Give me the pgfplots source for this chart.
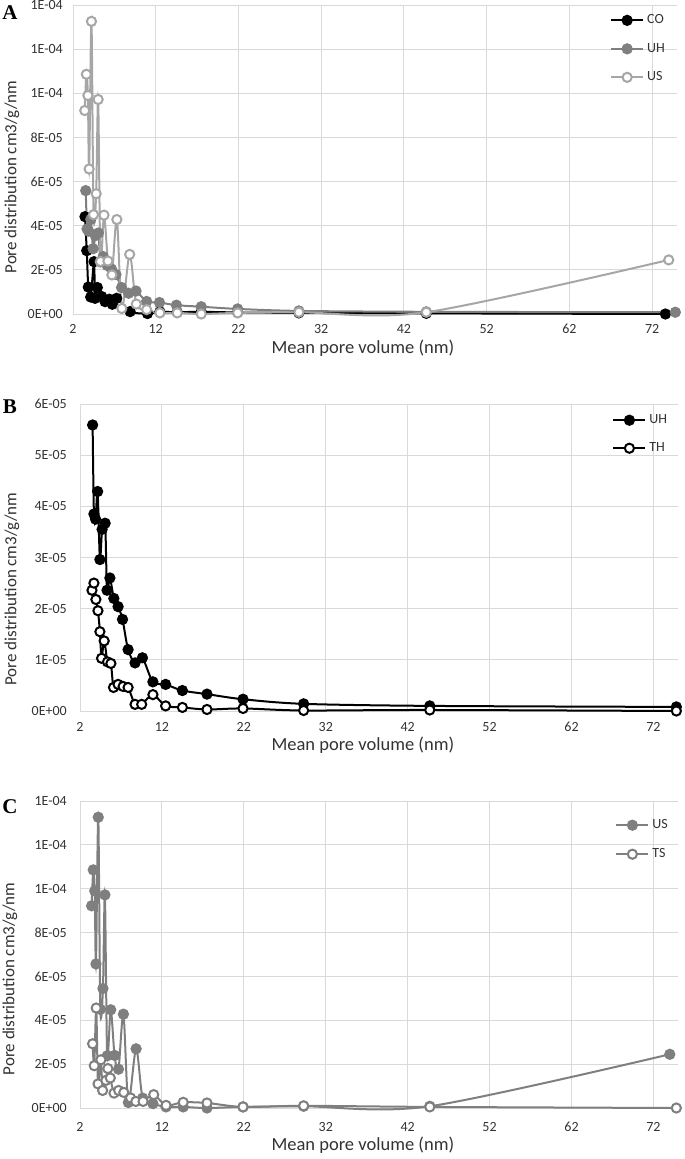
\documentclass[border=0pt]{standalone}
\usepackage{fontspec}
\setmainfont{Carlito}
\newfontfamily\letterfont{Liberation Serif}
\usepackage{pgfplots}
\pgfplotsset{compat=1.18}
\usepackage{pgfplotstable}

\definecolor{gridc}{HTML}{D9D9D9}
\definecolor{txt}{HTML}{333333}
\definecolor{gA}{HTML}{7F7F7F}
\definecolor{gB}{HTML}{A6A6A6}

% values in units of 1E-05 cm3/g/nm
\pgfplotstableread{
x y
3.45 4.41
3.66 2.87
3.85 1.22
4.14 0.77
4.54 2.37
4.66 0.71
4.94 1.20
5.47 0.79
5.87 0.56
6.39 0.67
6.75 0.44
7.28 0.71
8.90 0.11
11.0 0.02
12.5 0.10
14.6 0.08
17.5 0.10
21.9 0.07
29.3 0.05
44.7 0.03
73.6 0.00
}\CO
\pgfplotstableread{
x y
3.54 5.59
3.70 3.85
3.90 3.75
4.15 4.29
4.43 2.96
4.70 3.55
5.07 3.67
5.30 2.36
5.65 2.60
6.13 2.20
6.65 2.04
7.19 1.79
7.87 1.20
8.72 0.94
9.62 1.04
10.9 0.57
12.45 0.52
14.5 0.40
17.5 0.33
21.9 0.23
29.3 0.14
44.7 0.10
74.8 0.08
}\UH
\pgfplotstableread{
x y
3.42 9.22
3.62 10.86
3.80 9.90
3.95 6.57
4.23 13.26
4.48 4.50
4.80 5.45
5.04 9.72
5.32 2.38
5.75 4.48
6.22 2.40
6.70 1.77
7.30 4.28
7.90 0.25
8.85 2.70
9.65 0.45
10.9 0.20
12.5 0.05
14.6 0.05
17.5 0.00
21.9 0.05
29.3 0.08
44.7 0.08
74.0 2.45
}\US
\pgfplotstableread{
x y
3.46 2.36
3.70 2.50
3.94 2.18
4.19 1.96
4.43 1.55
4.63 1.03
4.95 1.37
5.36 0.96
5.77 0.93
6.09 0.46
6.65 0.52
7.26 0.48
7.87 0.46
8.72 0.13
9.53 0.13
10.9 0.32
12.45 0.10
14.5 0.07
17.5 0.03
21.9 0.05
29.3 0.01
44.7 0.02
74.8 0.00
}\TH
\pgfplotstableread{
x y
3.54 2.93
3.74 1.93
3.98 4.56
4.20 1.10
4.55 2.20
4.76 0.80
5.16 1.26
5.40 1.80
5.70 1.37
6.15 0.68
6.72 0.80
7.35 0.71
8.17 0.46
8.81 0.30
9.70 0.30
11.0 0.61
12.5 0.12
14.6 0.26
17.5 0.23
21.9 0.05
29.3 0.10
44.7 0.05
74.8 0.00
}\TS

\pgfplotsset{
  panel/.style={
    scale only axis,
    xmin=2, xmax=75, ymin=0,
    xtick={2,12,22,32,42,52,62,72},
    xticklabels={2,12,22,32,42,52,62,72},
    grid=major,
    major grid style={draw=gridc, line width=1bp},
    axis line style={draw=none},
    major tick length=0pt,
    clip=false,
    tick label style={font=\fontsize{14bp}{16bp}\selectfont, text=txt},
    xticklabel style={anchor=center},
    yticklabel style={anchor=east, inner sep=0pt},
    xlabel style={font=\fontsize{18.5bp}{21bp}\selectfont, text=txt, anchor=center},
    ylabel style={font=\fontsize{17bp}{20bp}\selectfont, text=txt, anchor=center},
    xlabel={Mean pore volume (nm)},
    ylabel={Pore distribution cm3/g/nm},
    legend cell align=left,
    legend style={draw=none, fill=none, inner sep=0pt, anchor=north west,
      column sep=3bp,
      font=\fontsize{14bp}{16bp}\selectfont,
      nodes={inner sep=0pt, text height=10bp, text depth=3bp, text=txt}},
    legend image code/.code={\draw[mark repeat=2,mark phase=2] plot coordinates {(0bp,0bp) (16bp,0bp) (32bp,0bp)};},
    every axis plot/.append style={smooth, tension=0.5, line width=2bp, mark=*, mark size=4.6bp, mark options={line width=1.4bp}},
  },
}

\begin{document}
\begin{tikzpicture}
\useasboundingbox (0,0) rectangle (685bp,-1159bp);

% ---------------- Panel A ----------------
\begin{axis}[panel,
  at={(73bp,-314bp)}, anchor=south west, width=604bp, height=309bp,
  ymax=14, ytick={0,2,...,14},
  yticklabels={0E+00,2E-05,4E-05,6E-05,8E-05,1E-04,1E-04,1E-04},
  xticklabel style={yshift=-15bp},
  yticklabel style={xshift=-10bp},
  xlabel style={at={(axis description cs:0.48,0)}, yshift=-34bp},
  ylabel style={at={([xshift=-61bp]axis description cs:0,0.443)}},
  legend style={at={(axis description cs:0.889,0.972)}, row sep=15.5bp},
]
\addplot[color=black, mark options={fill=black}] table {\CO};
\addlegendentry{CO}
\addplot[color=gA, mark options={fill=gA}] table {\UH};
\addlegendentry{UH}
\addplot[color=gB, mark options={fill=white}] table {\US};
\addlegendentry{US}
\end{axis}
\node[font=\letterfont\bfseries\fontsize{21bp}{24bp}\selectfont] at (10bp,-12.5bp) {A};

% ---------------- Panel B ----------------
\begin{axis}[panel,
  at={(80bp,-711bp)}, anchor=south west, width=598bp, height=307bp,
  ymax=6, ytick={0,1,...,6},
  yticklabels={0E+00,1E-05,2E-05,3E-05,4E-05,5E-05,6E-05},
  xticklabel style={yshift=-16bp},
  yticklabel style={xshift=-13bp},
  xlabel style={at={(axis description cs:0.473,0)}, yshift=-34bp},
  ylabel style={at={([xshift=-68bp]axis description cs:0,0.397)}},
  legend style={at={(axis description cs:0.890,0.969)}, row sep=15bp},
]
\addplot[color=black, mark options={fill=black}] table {\UH};
\addlegendentry{UH}
\addplot[color=black, mark options={fill=white}] table {\TH};
\addlegendentry{TH}
\end{axis}
\node[font=\letterfont\bfseries\fontsize{21bp}{24bp}\selectfont] at (10bp,-407bp) {B};

% ---------------- Panel C ----------------
\begin{axis}[panel,
  at={(80bp,-1108bp)}, anchor=south west, width=598bp, height=307bp,
  ymax=14, ytick={0,2,...,14},
  yticklabels={0E+00,2E-05,4E-05,6E-05,8E-05,1E-04,1E-04,1E-04},
  xticklabel style={yshift=-19bp},
  yticklabel style={xshift=-13bp},
  xlabel style={at={(axis description cs:0.473,0)}, yshift=-37bp},
  ylabel style={at={([xshift=-70bp]axis description cs:0,0.42)}},
  legend style={at={(axis description cs:0.895,0.943)}, row sep=16bp},
]
\addplot[color=gA, mark options={fill=gA}] table {\US};
\addlegendentry{US}
\addplot[color=gA, mark options={fill=white}] table {\TS};
\addlegendentry{TS}
\end{axis}
\node[font=\letterfont\bfseries\fontsize{21bp}{24bp}\selectfont] at (10bp,-807bp) {C};
\end{tikzpicture}
\end{document}
